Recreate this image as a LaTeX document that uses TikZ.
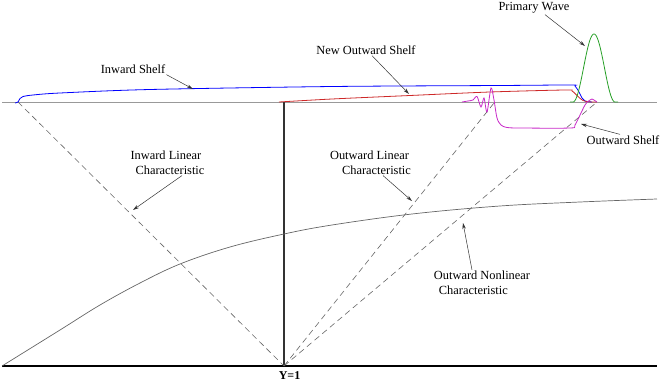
\documentclass[tikz,border=0pt]{standalone}
\usepackage{fontspec}
\setmainfont{Liberation Serif}
\usetikzlibrary{arrows.meta}
\definecolor{shelfred}{RGB}{205,40,40}
\definecolor{wavegreen}{RGB}{40,160,40}
\definecolor{shelfmag}{RGB}{200,40,200}
\begin{document}
\begin{tikzpicture}[x=1pt,y=-1pt,
  lbl/.style={font=\fontsize{12.4}{15}\selectfont, inner sep=1pt},
  ptr/.style={-{Stealth[length=6pt,width=3.5pt]}, black!80, line width=0.5pt},
  dsh/.style={dash pattern=on 6pt off 4pt, black!60, line width=0.6pt},
  crv/.style={line width=0.8pt}]
\useasboundingbox (0,0) rectangle (664,382);
% coordinates
\coordinate (tl) at (2,102);
\coordinate (tr) at (657,102);
\coordinate (bl) at (2,366);
\coordinate (br) at (657,366);
\coordinate (o) at (284,366);
\coordinate (ot) at (284,102);
\coordinate (ic) at (18,102);
\coordinate (oc1) at (494,103);
\coordinate (oc2) at (597,102);
% base lines
\draw[black!40, line width=0.8pt] (tl) -- (tr);
\draw[black, line width=1.6pt] (bl) -- (br);
\draw[black!80, line width=1.6pt] (ot) -- (o);
% characteristics
\draw[dsh] (ic) -- (o);
\draw[dsh] (o) -- (oc1);
\draw[dsh] (o) -- (oc2);
\draw[black!60, line width=0.7pt] plot[smooth, tension=0.6] coordinates {(2,366) (60,330) (100,305) (140,283) (180,264) (230,247) (284,234) (332,225) (412,214) (500,206) (580,202) (657,199)};
% shelves
\draw[crv, blue] plot[smooth, tension=0.5] coordinates {(15,103) (18,102) (20,98.5) (23,96.5) (33,95) (60,93) (150,89.5) (333,86.5) (500,85.5) (570,85) (575,86) (579,92) (582,98) (585,101) (592,102)};
\draw[crv, shelfred] plot[smooth, tension=0.5] coordinates {(279,102) (332,99) (410,95.5) (490,92) (565,90) (572,91) (578,96.5) (583,100.5) (590,102) (597,102)};
\draw[crv, shelfmag] plot[smooth, tension=0.5] coordinates {(462,102) (468,101) (473,100) (477,96.5) (481,107) (484,98) (487,112) (491,88) (494,100) (497,118) (501,125) (507,127.5) (520,128) (570,128) (575,125) (585,105) (590,100) (592,99) (594,100) (597,102)};
\draw[crv, wavegreen] (570,102) -- (573,102) -- plot[domain=573:615, samples=60] (\x, {102-68*cos(90*(\x-594)/21)^2}) -- (618,102);
% labels
\node[lbl] (isl) at (133,69) {Inward Shelf};
\node[lbl] (nos) at (366,50) {New Outward Shelf};
\node[lbl] (pw) at (534,8) {Primary Wave};
\node[lbl] (os) at (623,140) {Outward Shelf};
\node[lbl, align=left] (ilc) at (167.5,162.5) {Inward Linear\\\hspace*{5pt}Characteristic};
\node[lbl, align=left] (olc) at (370.5,162.5) {Outward Linear\\\hspace*{12pt}Characteristic};
\node[lbl, align=left] (onc) at (482,283) {Outward Nonlinear\\\hspace*{5pt}Characteristic};
\node[font=\bfseries\fontsize{12}{14}\selectfont, inner sep=0pt] (y1) at (289.5,375.5) {Y=1};
% arrow tips
\coordinate (tIS) at (193,89);
\coordinate (tNOS) at (409,94);
\coordinate (tPW) at (585,46);
\coordinate (tOS) at (581,124);
\coordinate (tILC) at (133,210);
\coordinate (tOLC) at (412,201);
\coordinate (tONC) at (463,223);
% pointers
\draw[ptr] (isl.south east) -- (tIS);
\draw[ptr] ([xshift=6pt]nos.south) -- (tNOS);
\draw[ptr] ([xshift=11pt]pw.south) -- (tPW);
\draw[ptr] ([xshift=-3pt]os.north) -- (tOS);
\draw[ptr] ([xshift=14.5pt]ilc.south) -- (tILC);
\draw[ptr] ([xshift=12.5pt]olc.south) -- (tOLC);
\draw[ptr] ([xshift=-10pt]onc.north) -- (tONC);
\end{tikzpicture}
\end{document}
